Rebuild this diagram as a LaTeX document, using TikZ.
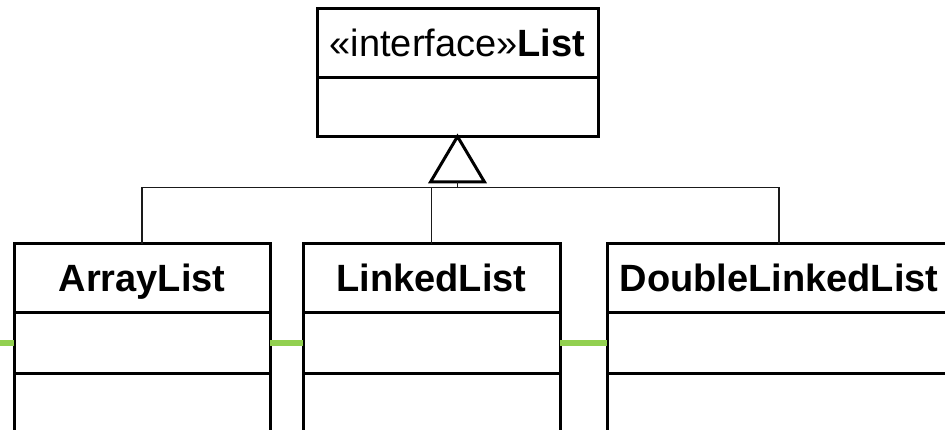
\documentclass[tikz,border=0pt]{standalone}
\usepackage{fontspec}
\usetikzlibrary{calc}
\setmainfont{Liberation Sans}
\definecolor{assocgreen}{HTML}{92D050}
\definecolor{umlline}{HTML}{1A1A1A}
\tikzset{
  compartment/.style={draw=black, line width=3pt, fill=white, rectangle,
                      inner sep=0pt, outer sep=0pt},
  namebox/.style={compartment, font=\fontsize{38}{40}\selectfont\bfseries,
                  text height=27pt, text depth=0pt},
  generalization/.style={draw=umlline, line width=1.6pt},
  association/.style={draw=assocgreen, line width=6pt}
}
\begin{document}
\begin{tikzpicture}[x=1pt, y=-1pt]
  \clip (0,0) rectangle (945,430);
  \useasboundingbox (0,0) rectangle (945,430);
  \fill[white] (0,0) rectangle (945,430);

  % interface List
  \node[compartment, minimum width=281pt, minimum height=69pt,
        font=\fontsize{38}{40}\selectfont, text height=27pt, text depth=0pt]
        (list) at (457.5,43) {«interface»\textbf{List}};
  \node[compartment, minimum width=281pt, minimum height=59pt, anchor=north]
        (list-ops) at (list.south) {};

  % implementing classes: name, attribute and operation compartments
  \node[namebox, minimum width=256pt, minimum height=69pt] (al) at (142,278.5) {ArrayList};
  \node[compartment, minimum width=256pt, minimum height=60pt, anchor=north] (al-attr) at (al.south) {};
  \node[compartment, minimum width=256pt, minimum height=80pt, anchor=north] (al-ops) at (al-attr.south) {};

  \node[namebox, minimum width=257pt, minimum height=69pt] (ll) at (431.5,278.5) {LinkedList};
  \node[compartment, minimum width=257pt, minimum height=60pt, anchor=north] (ll-attr) at (ll.south) {};
  \node[compartment, minimum width=257pt, minimum height=80pt, anchor=north] (ll-ops) at (ll-attr.south) {};

  \node[namebox, minimum width=344pt, minimum height=69pt] (dll) at (779,278.5) {DoubleLinkedList};
  \node[compartment, minimum width=344pt, minimum height=60pt, anchor=north] (dll-attr) at (dll.south) {};
  \node[compartment, minimum width=344pt, minimum height=80pt, anchor=north] (dll-ops) at (dll-attr.south) {};

  % association links between the attribute compartments
  \coordinate (edge) at (0,0);
  \coordinate (in) at (edge |- al-attr.west);
  \draw[association] (in) -- (al-attr.west);
  \draw[association] (al-attr.east) -- (ll-attr.west);
  \draw[association] (ll-attr.east) -- (dll-attr.west);

  % generalization: hollow triangle and branching lines
  \coordinate (tribase) at (457.5,182);
  \coordinate (bus) at (457.5,187.5);
  \draw[line width=3pt, line join=miter, fill=white]
    (list-ops.south) -- ($(tribase)+(-27,0)$) -- ($(tribase)+(27,0)$) -- cycle;
  \draw[generalization] (tribase) -- (bus);
  \draw[generalization] (al.north) |- (bus) -| (dll.north);
  \draw[generalization] (ll.north) -- (ll.north |- bus);
\end{tikzpicture}
\end{document}
